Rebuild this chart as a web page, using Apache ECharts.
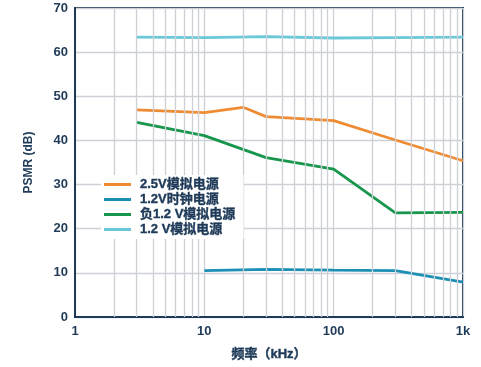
<!DOCTYPE html>
<html><head><meta charset="utf-8">
<script src="https://cdn.jsdelivr.net/npm/echarts@6/dist/echarts.min.js"></script>
<style>html,body{margin:0;padding:0;background:#fff}#c{width:481px;height:367px}</style>
</head><body><div id="c"></div>
<script>
const seriesNames = ['2.5V模拟电源', '1.2V时钟电源', '负1.2 V模拟电源', '1.2 V模拟电源'];
const analog25 = [[3, 46.9], [10, 46.3], [20, 47.5], [30, 45.4], [100, 44.5], [300, 40.1], [1000, 35.4]];
const clock12 = [[10, 10.5], [30, 10.8], [100, 10.6], [300, 10.5], [1000, 7.9]];
const neg12 = [[3, 44.1], [10, 41.1], [30, 36.1], [100, 33.5], [300, 23.6], [1000, 23.7]];
const analog12 = [[3, 63.4], [10, 63.3], [30, 63.5], [100, 63.2], [300, 63.3], [1000, 63.4]];
const minorGrid = [2, 3, 4, 5, 6, 7, 8, 9, 20, 30, 40, 50, 60, 70, 80, 90, 200, 300, 400, 500, 600, 700, 800, 900];
const xTickLabels = {1: '1', 10: '10', 100: '100', 1000: '1k'};
const colors = ['#ef8c33', '#1b90b4', '#17964c', '#6ac8d8'];

const navy = '#1e3a58';
const gridColor = '#cdd1d7';
const fam = 'Liberation Sans, Noto Sans CJK SC';
const chart = echarts.init(document.getElementById('c'));
const seriesData = [analog25, clock12, neg12, analog12];
const series = [{
  type: 'line', name: 'grid', data: [], silent: true, z: 1,
  markLine: {
    silent: true, symbol: ['none', 'none'], label: {show: false},
    lineStyle: {color: gridColor, width: 1.3, type: 'solid'},
    emphasis: {disabled: true},
    data: minorGrid.map(v => ({xAxis: v}))
  }
}];
seriesData.forEach((d, i) => series.push({
  type: 'line', name: seriesNames[i], data: d, showSymbol: false, z: 3,
  lineStyle: {color: colors[i], width: 2.8}, itemStyle: {color: colors[i]}
}));
chart.setOption({
  animation: false,
  color: colors,
  grid: {left: 75, right: 18, top: 8, bottom: 50, show: true, borderColor: navy, borderWidth: 2},
  legend: {
    data: seriesNames.map(n => ({name: n, icon: 'rect'})),
    orient: 'vertical', left: 101, top: 175, itemWidth: 27, itemHeight: 3, itemGap: 0,
    padding: [2, 8, 2, 3], backgroundColor: '#ffffff', zlevel: 1, z: 10,
    textStyle: {color: navy, fontSize: 13, fontWeight: 'bold', fontFamily: fam, lineHeight: 15,
      textBorderColor: navy, textBorderWidth: 0.4, padding: [0, 0, 0, 4]}
  },
  xAxis: {
    type: 'log', logBase: 10, min: 1, max: 1000,
    name: '频率（kHz）', nameLocation: 'middle', nameGap: 31,
    nameTextStyle: {color: navy, fontSize: 13, fontWeight: 'bold', fontFamily: fam, textBorderColor: navy, textBorderWidth: 0.4},
    axisLine: {lineStyle: {color: navy, width: 2}},
    axisTick: {show: false},
    axisLabel: {color: navy, fontSize: 13, fontWeight: 'bold', fontFamily: fam, margin: 8,
      formatter: v => xTickLabels[Math.round(v)] || ''},
    splitLine: {show: true, lineStyle: {color: gridColor, width: 1.3}}
  },
  yAxis: {
    type: 'value', min: 0, max: 70, interval: 10,
    name: 'PSMR (dB)', nameLocation: 'middle', nameGap: 40, nameRotate: 90,
    nameTextStyle: {color: navy, fontSize: 12, fontWeight: 'bold', fontFamily: fam},
    axisLine: {show: true, lineStyle: {color: navy, width: 2}},
    axisTick: {show: false},
    axisLabel: {color: navy, fontSize: 13, fontWeight: 'bold', fontFamily: fam, margin: 7},
    splitLine: {show: true, lineStyle: {color: gridColor, width: 1.3}}
  },
  series: series
});
</script></body></html>
